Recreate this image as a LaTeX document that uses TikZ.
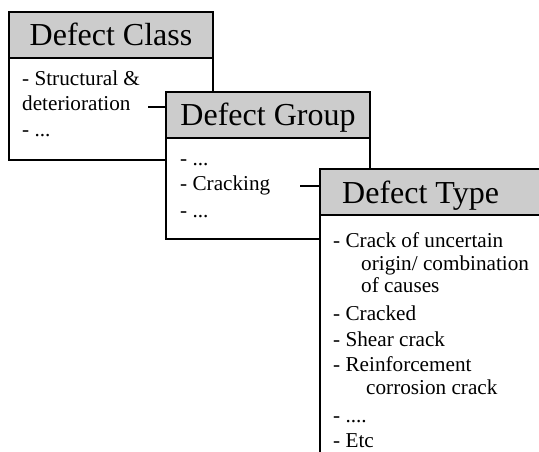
\documentclass[tikz,border=0pt]{standalone}
\usepackage{fontspec}
\setmainfont{Liberation Serif}
\usetikzlibrary{positioning}

\newcommand{\headfont}{\fontsize{32}{38}\selectfont}
\newcommand{\itemfont}{\fontsize{21.2}{25}\selectfont}

\begin{document}
\begin{tikzpicture}[x=1pt,y=-1pt,
    head/.style={draw=black,fill=black!20,line width=1.3pt,anchor=north west,outer sep=0pt,minimum height=46pt,text height=22pt,text depth=0pt,font=\headfont},
    body/.style={draw=black,fill=white,line width=1.3pt,anchor=north west,outer sep=0pt},
    title/.style={anchor=west,inner sep=0pt,text height=22pt,text depth=0pt,font=\headfont},
    entry/.style={anchor=base west,inner sep=0pt,font=\itemfont},
    link/.style={line width=1.1pt}]

    \useasboundingbox (0,0) rectangle (539,452);
    \clip (0,0) rectangle (539,452);

    % Defect class box
    \node[head,minimum width=204pt] (clsHead) at (9,12) {Defect Class};
    \node[body,minimum width=204pt,minimum height=102pt,below right=0pt and 0pt of clsHead.south west] (clsBody) {};
    \node[entry] (clsItemA) at (22,86) {- Structural \&};
    \node[entry] (clsItemB) at (22,111) {deterioration};
    \node[entry] (clsItemC) at (22,137) {- ...};

    % Defect group box
    \node[head,minimum width=204pt] (grpHead) at (166,92) {Defect Group};
    \node[body,minimum width=204pt,minimum height=101pt,below right=0pt and 0pt of grpHead.south west] (grpBody) {};
    \node[entry] (grpItemA) at (180,165) {- ...};
    \node[entry] (grpItemB) at (180,190) {- Cracking};
    \node[entry] (grpItemC) at (180,217) {- ...};

    % Defect type box (runs past the edges)
    \node[head,minimum width=244pt] (typeHead) at (320,169) {};
    \node[title] (typeTitle) at ([xshift=22pt]typeHead.west) {Defect Type};
    \node[body,minimum width=244pt,minimum height=265pt,below right=0pt and 0pt of typeHead.south west] (typeBody) {};
    \node[entry] (typeItemA) at (333,247) {- Crack of uncertain};
    \node[entry] (typeItemB) at (361,270) {origin/ combination};
    \node[entry] (typeItemC) at (361,292) {of causes};
    \node[entry] (typeItemD) at (333,320) {- Cracked};
    \node[entry] (typeItemE) at (333,346) {- Shear crack};
    \node[entry] (typeItemF) at (333,371) {- Reinforcement};
    \node[entry] (typeItemG) at (366,394) {corrosion crack};
    \node[entry] (typeItemH) at (333,422) {- ....};
    \node[entry] (typeItemI) at (333,447) {- Etc};

    % Links between the levels
    \coordinate (clsLink) at (148,107);
    \coordinate (grpLink) at (300,186);
    \draw[link] (clsLink) -- (grpHead.west |- clsLink);
    \draw[link] (grpLink) -- (typeHead.west |- grpLink);

\end{tikzpicture}
\end{document}
